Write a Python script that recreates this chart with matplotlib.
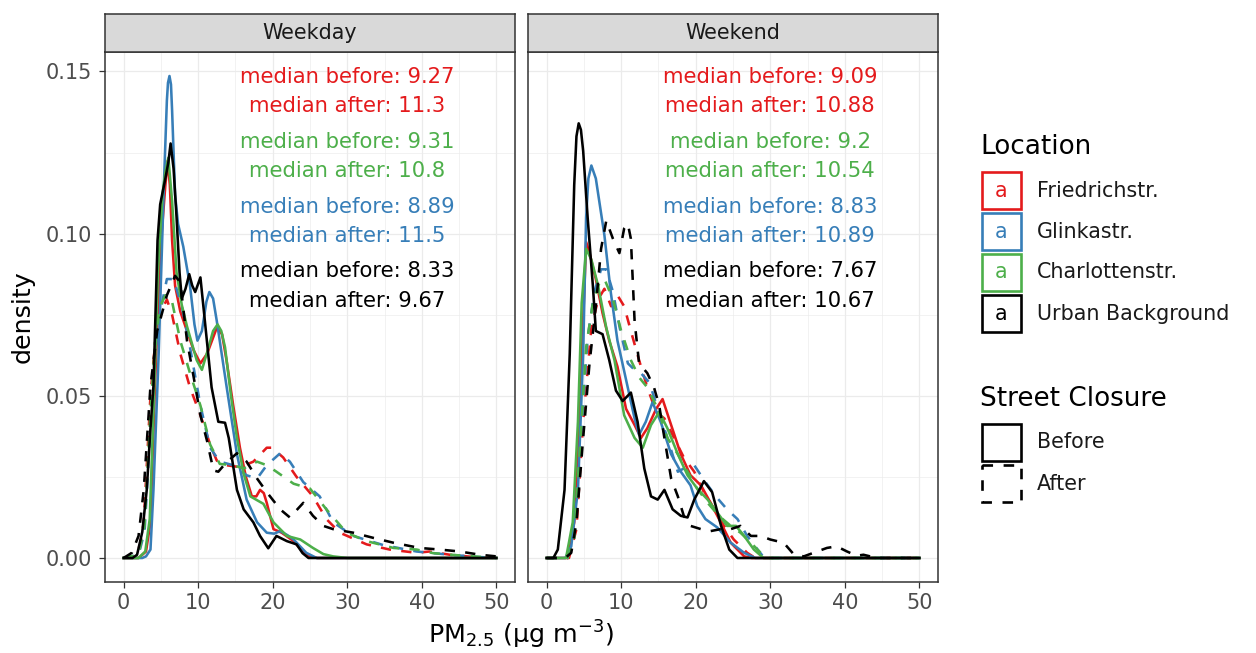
import matplotlib
matplotlib.use("Agg")
import matplotlib.pyplot as plt
from matplotlib.patches import Rectangle

# ---------------- data ----------------
locations = ["Friedrichstr.", "Glinkastr.", "Charlottenstr.", "Urban Background"]
closures = ["Before", "After"]
panels = ["Weekday", "Weekend"]
loc_colors = ["#E41A1C", "#377EB8", "#4DAF4A", "#000000"]

# Weekday, before (solid)
wd_fr_b_x = [0, 2.0, 3.0, 3.6, 4.2, 4.9, 5.6, 5.9, 6.2, 6.5, 6.9, 7.6, 8.5, 9.4, 10.3, 11.2, 12.5, 13.2, 13.8, 14.7, 15.6, 16.4, 17.2, 17.8, 18.3, 18.8, 19.2, 20.1, 21.2, 22.8, 24.0, 25.0, 26.0, 50]
wd_fr_b_y = [0, 0, 0.002, 0.011, 0.053, 0.094, 0.115, 0.1224, 0.115, 0.098, 0.084, 0.076, 0.070, 0.064, 0.060, 0.063, 0.071, 0.069, 0.061, 0.047, 0.034, 0.025, 0.019, 0.019, 0.021, 0.020, 0.017, 0.0089, 0.0078, 0.0052, 0.002, 0.0005, 0, 0]
wd_gl_b_x = [0, 2.5, 3.0, 3.6, 4.0, 4.7, 5.4, 5.8, 5.95, 6.15, 6.35, 6.5, 6.9, 7.3, 8.0, 8.9, 9.5, 9.9, 10.5, 11.1, 11.5, 12.0, 12.5, 13.8, 15.2, 16.5, 17.9, 19.2, 20.2, 21.0, 22.0, 22.8, 24.5, 25.9, 50]
wd_gl_b_y = [0, 0, 0.0005, 0.0026, 0.021, 0.063, 0.115, 0.141, 0.1465, 0.1486, 0.146, 0.138, 0.112, 0.103, 0.096, 0.084, 0.072, 0.067, 0.070, 0.079, 0.082, 0.080, 0.073, 0.053, 0.032, 0.018, 0.011, 0.0078, 0.0075, 0.0083, 0.007, 0.0057, 0.0016, 0, 0]
wd_ch_b_x = [0, 2.0, 2.9, 3.5, 4.0, 4.6, 5.2, 5.6, 6.0, 6.5, 7.1, 7.8, 8.5, 9.8, 10.5, 11.4, 12.0, 12.6, 13.1, 13.6, 14.4, 15.2, 16.1, 17.0, 18.75, 20.1, 21.9, 23.7, 25.4, 26.8, 28.1, 30.0, 50]
wd_ch_b_y = [0, 0, 0.002, 0.012, 0.045, 0.088, 0.112, 0.119, 0.1234, 0.110, 0.088, 0.078, 0.0714, 0.061, 0.058, 0.065, 0.070, 0.072, 0.070, 0.065, 0.050, 0.037, 0.026, 0.019, 0.0167, 0.011, 0.0068, 0.0057, 0.0031, 0.0012, 0.0005, 0, 0]
wd_ub_b_x = [0, 1.2, 1.8, 2.5, 3.1, 3.6, 4.0, 4.55, 4.9, 5.6, 6.0, 6.3, 6.7, 7.1, 7.5, 7.8, 8.3, 8.8, 9.2, 9.6, 10.3, 10.9, 11.8, 12.7, 13.6, 14.1, 15.2, 16.1, 17.4, 18.3, 19.4, 20.5, 21.9, 23.2, 24.0, 24.8, 50]
wd_ub_b_y = [0, 0, 0.001, 0.008, 0.021, 0.040, 0.053, 0.098, 0.109, 0.117, 0.122, 0.1278, 0.120, 0.105, 0.088, 0.080, 0.083, 0.0875, 0.084, 0.082, 0.0865, 0.073, 0.0526, 0.042, 0.0417, 0.037, 0.021, 0.015, 0.011, 0.0068, 0.003, 0.0068, 0.0052, 0.0042, 0.0015, 0, 0]

# Weekday, after (dashed)
wd_fr_a_x = [0, 1.5, 2.2, 2.7, 3.6, 4.2, 4.9, 5.8, 6.5, 7.6, 8.9, 10.3, 11.6, 12.5, 13.8, 15.6, 17.4, 19.2, 19.9, 21.4, 23.2, 25.4, 27.2, 29.0, 32.6, 35.7, 39.3, 41.0, 43.75, 47.0, 50]
wd_fr_a_y = [0, 0.0005, 0.004, 0.011, 0.050, 0.066, 0.0755, 0.0797, 0.075, 0.063, 0.0526, 0.044, 0.035, 0.030, 0.0286, 0.028, 0.0297, 0.034, 0.034, 0.031, 0.025, 0.019, 0.012, 0.0078, 0.0042, 0.0026, 0.0016, 0.002, 0.001, 0.0003, 0]
wd_gl_a_x = [0, 2.0, 2.8, 3.6, 4.2, 4.7, 5.8, 6.7, 7.8, 8.9, 10.3, 11.6, 12.9, 14.7, 16.5, 17.9, 19.2, 21.0, 22.3, 24.1, 26.3, 28.1, 30.8, 34.8, 39.3, 43.75, 47.0, 50]
wd_gl_a_y = [0, 0.001, 0.008, 0.040, 0.062, 0.0734, 0.086, 0.086, 0.0776, 0.065, 0.047, 0.034, 0.0297, 0.0286, 0.0255, 0.0245, 0.0286, 0.0323, 0.0297, 0.0234, 0.019, 0.011, 0.0068, 0.004, 0.002, 0.001, 0.0004, 0]
wd_ch_a_x = [0, 2.0, 2.8, 3.6, 4.2, 4.9, 5.6, 6.5, 7.6, 8.9, 10.3, 11.6, 12.9, 14.7, 16.1, 17.9, 19.2, 20.5, 22.8, 25.0, 27.2, 29.9, 32.6, 36.2, 39.3, 41.5, 45.0, 50]
wd_ch_a_y = [0, 0.001, 0.010, 0.045, 0.066, 0.0776, 0.081, 0.079, 0.067, 0.057, 0.047, 0.035, 0.029, 0.0286, 0.0276, 0.0297, 0.0286, 0.0266, 0.0229, 0.0214, 0.015, 0.0078, 0.0052, 0.0031, 0.0026, 0.0015, 0.0008, 0]
wd_ub_a_x = [0, 1.1, 2.0, 2.7, 3.6, 4.5, 5.8, 6.9, 7.6, 8.5, 9.4, 10.3, 11.2, 12.05, 12.7, 13.6, 15.2, 16.5, 17.9, 19.2, 21.0, 22.3, 24.1, 25.4, 26.8, 28.1, 30.8, 33.5, 36.2, 39.7, 42.4, 45.1, 47.8, 50]
wd_ub_a_y = [0, 0.0016, 0.0068, 0.021, 0.053, 0.070, 0.081, 0.087, 0.085, 0.067, 0.0557, 0.044, 0.036, 0.027, 0.0266, 0.029, 0.0323, 0.0297, 0.0245, 0.0203, 0.015, 0.0125, 0.017, 0.013, 0.0099, 0.0089, 0.0078, 0.0062, 0.0047, 0.0031, 0.0026, 0.002, 0.001, 0.0005]

# Weekend, before (solid)
we_fr_b_x = [0, 2.8, 3.7, 4.4, 4.9, 5.3, 5.75, 6.6, 7.5, 8.4, 9.5, 10.65, 11.8, 12.65, 13.5, 14.7, 15.55, 16.7, 18.0, 19.3, 20.7, 22.0, 23.35, 24.7, 26.5, 27.5, 50]
we_fr_b_y = [0, 0, 0.011, 0.042, 0.0734, 0.0974, 0.094, 0.086, 0.0755, 0.067, 0.059, 0.046, 0.041, 0.037, 0.040, 0.046, 0.049, 0.041, 0.032, 0.0255, 0.0224, 0.017, 0.011, 0.0047, 0.0005, 0, 0]
we_gl_b_x = [0, 2.5, 3.3, 4.2, 4.9, 5.3, 5.6, 6.0, 6.6, 7.75, 8.6, 9.5, 10.65, 11.8, 12.4, 13.3, 14.2, 15.3, 16.7, 18.0, 19.3, 20.2, 21.3, 22.9, 24.7, 26.5, 28.0, 50]
we_gl_b_y = [0, 0, 0.0036, 0.021, 0.063, 0.105, 0.117, 0.121, 0.117, 0.0995, 0.082, 0.067, 0.055, 0.043, 0.038, 0.042, 0.048, 0.042, 0.032, 0.0266, 0.0224, 0.016, 0.012, 0.0094, 0.0047, 0.0016, 0, 0]
we_ch_b_x = [0, 2.6, 3.5, 4.2, 4.7, 5.3, 6.0, 6.9, 8.0, 9.1, 10.4, 11.8, 12.9, 14.0, 15.1, 16.2, 17.6, 18.9, 20.2, 21.6, 22.9, 24.2, 25.4, 26.5, 27.8, 29.1, 50]
we_ch_b_y = [0, 0, 0.011, 0.042, 0.0786, 0.0953, 0.092, 0.084, 0.071, 0.061, 0.044, 0.037, 0.034, 0.041, 0.045, 0.040, 0.032, 0.0255, 0.0214, 0.018, 0.014, 0.0099, 0.0099, 0.0068, 0.0026, 0, 0]
we_ub_b_x = [0, 0.9, 1.5, 2.4, 3.1, 3.7, 4.0, 4.3, 4.6, 4.9, 5.5, 6.2, 6.6, 7.5, 8.4, 9.3, 10.2, 11.3, 12.2, 13.1, 14.0, 14.9, 15.8, 16.9, 18.0, 18.9, 19.8, 21.1, 22.2, 23.4, 24.5, 25.6, 50]
we_ub_b_y = [0, 0, 0.0026, 0.021, 0.063, 0.115, 0.130, 0.134, 0.132, 0.1255, 0.105, 0.084, 0.070, 0.069, 0.061, 0.0516, 0.0484, 0.051, 0.042, 0.0276, 0.019, 0.018, 0.021, 0.015, 0.013, 0.0125, 0.018, 0.0237, 0.0203, 0.0099, 0.0026, 0, 0]

# Weekend, after (dashed)
we_fr_a_x = [0, 3.0, 4.0, 4.9, 6.0, 6.9, 7.75, 8.65, 9.5, 10.4, 11.3, 12.4, 13.5, 14.7, 15.8, 17.1, 18.4, 19.8, 21.1, 22.5, 23.8, 25.1, 26.9, 28.0, 50]
we_fr_a_y = [0, 0, 0.0089, 0.042, 0.071, 0.0797, 0.083, 0.0776, 0.081, 0.0776, 0.070, 0.061, 0.0526, 0.045, 0.043, 0.037, 0.031, 0.0266, 0.0203, 0.015, 0.0099, 0.0057, 0.0016, 0, 0]
we_gl_a_x = [0, 2.8, 3.7, 4.6, 5.5, 6.4, 7.3, 8.0, 8.9, 9.8, 10.9, 11.8, 12.65, 13.8, 14.9, 16.2, 17.6, 18.4, 19.8, 21.3, 22.7, 24.2, 25.6, 26.9, 28.3, 29.2, 50]
we_gl_a_y = [0, 0, 0.0089, 0.037, 0.068, 0.082, 0.089, 0.089, 0.082, 0.071, 0.060, 0.058, 0.057, 0.054, 0.046, 0.037, 0.0266, 0.0276, 0.0286, 0.0234, 0.019, 0.015, 0.012, 0.0068, 0.0026, 0, 0]
we_ch_a_x = [0, 2.8, 3.7, 4.5, 5.3, 6.2, 7.1, 7.75, 8.9, 10.0, 11.3, 12.4, 13.5, 14.9, 16.2, 17.6, 18.9, 20.2, 21.6, 23.1, 24.7, 26.0, 27.4, 28.7, 29.6, 50]
we_ch_a_y = [0, 0, 0.0057, 0.035, 0.065, 0.0786, 0.085, 0.086, 0.0797, 0.070, 0.061, 0.0557, 0.0526, 0.046, 0.037, 0.032, 0.0266, 0.0214, 0.017, 0.013, 0.0099, 0.0078, 0.0047, 0.0016, 0, 0]
we_ub_a_x = [0, 2.5, 3.3, 4.0, 4.9, 5.75, 6.6, 7.3, 8.0, 8.9, 9.76, 10.4, 10.9, 11.3, 11.8, 12.4, 13.5, 14.4, 15.1, 15.8, 16.7, 17.6, 18.4, 19.3, 20.7, 22.0, 23.35, 24.7, 26.0, 27.4, 28.7, 30.0, 31.8, 33.2, 34.5, 35.8, 37.6, 38.9, 40.3, 41.6, 42.5, 43.4, 44.5, 50]
we_ub_a_y = [0, 0, 0.0016, 0.011, 0.037, 0.060, 0.0776, 0.0953, 0.104, 0.0984, 0.094, 0.1016, 0.103, 0.0984, 0.073, 0.060, 0.057, 0.0526, 0.047, 0.037, 0.0245, 0.019, 0.013, 0.0099, 0.0089, 0.0083, 0.0089, 0.0089, 0.0099, 0.0068, 0.0068, 0.0057, 0.0047, 0.001, 0.0005, 0.0016, 0.0031, 0.0036, 0.002, 0.0007, 0.001, 0.0005, 0, 0]

# medians shown in each panel (order: Friedrichstr., Glinkastr., Charlottenstr., Urban Background)
wd_median_before = ["9.27", "8.89", "9.31", "8.33"]
wd_median_after = ["11.3", "11.5", "10.8", "9.67"]
we_median_before = ["9.09", "8.83", "9.2", "7.67"]
we_median_after = ["10.88", "10.89", "10.54", "10.67"]

x_ticks = [0, 10, 20, 30, 40, 50]
y_ticks = [0.00, 0.05, 0.10, 0.15]
y_tick_labels = ["0.00", "0.05", "0.10", "0.15"]

# ---------------- layout ----------------
W, H = 1256, 653
fig = plt.figure(figsize=(W / 100, H / 100), dpi=100)


def fx(px):
    return px / W


def fy(py):
    return 1 - py / H


border = "#333333"
grid_c = "#EBEBEB"
tick_lab_c = "#4D4D4D"

panel_data = {
    "Weekday": [
        [(wd_fr_b_x, wd_fr_b_y), (wd_fr_a_x, wd_fr_a_y)],
        [(wd_gl_b_x, wd_gl_b_y), (wd_gl_a_x, wd_gl_a_y)],
        [(wd_ch_b_x, wd_ch_b_y), (wd_ch_a_x, wd_ch_a_y)],
        [(wd_ub_b_x, wd_ub_b_y), (wd_ub_a_x, wd_ub_a_y)],
    ],
    "Weekend": [
        [(we_fr_b_x, we_fr_b_y), (we_fr_a_x, we_fr_a_y)],
        [(we_gl_b_x, we_gl_b_y), (we_gl_a_x, we_gl_a_y)],
        [(we_ch_b_x, we_ch_b_y), (we_ch_a_x, we_ch_a_y)],
        [(we_ub_b_x, we_ub_b_y), (we_ub_a_x, we_ub_a_y)],
    ],
}
panel_medians = {
    "Weekday": (wd_median_before, wd_median_after),
    "Weekend": (we_median_before, we_median_after),
}

dash_style = (0, (4, 4))
line_w = 1.85
panel_left_px = [105, 528]
panel_w_px = 410
# text order in panels: red, green, blue, black
text_order = [0, 2, 1, 3]
text_base_y = [(0.1464, 0.1375), (0.1264, 0.1174), (0.1063, 0.0974), (0.0865, 0.0774)]

for pi, pname in enumerate(panels):
    left = panel_left_px[pi]
    ax = fig.add_axes([fx(left), fy(582), panel_w_px / W, (582 - 52) / H])
    ax.set_xlim(-2.5, 52.5)
    ax.set_ylim(-0.0074, 0.1560)
    ax.set_xticks(x_ticks)
    ax.set_xticks([5, 15, 25, 35, 45], minor=True)
    ax.set_yticks(y_ticks)
    ax.set_yticks([0.025, 0.075, 0.125], minor=True)
    ax.grid(which="major", color=grid_c, lw=0.9, zorder=0)
    ax.grid(which="minor", color=grid_c, lw=0.45, zorder=0)
    ax.set_axisbelow(True)
    for s in ax.spines.values():
        s.set_color(border)
        s.set_linewidth(1.1)
    ax.tick_params(which="minor", length=0)
    ax.tick_params(which="major", color=border, length=4.6, width=0.9,
                   labelsize=15, labelcolor=tick_lab_c)
    ax.tick_params(axis="y", pad=4.6)
    ax.tick_params(axis="x", pad=3.6)
    if pi == 0:
        ax.set_yticklabels(y_tick_labels)
    else:
        ax.tick_params(axis="y", which="major", length=0, labelleft=False)
    ax.set_xticklabels([str(t) for t in x_ticks])

    for li, loc in enumerate(locations):
        (bx, by), (axx, ayy) = panel_data[pname][li]
        ax.plot(bx, by, color=loc_colors[li], lw=line_w, solid_joinstyle="round", zorder=3)
        ax.plot(axx, ayy, color=loc_colors[li], lw=line_w, linestyle=dash_style,
                dash_joinstyle="round", zorder=3)

    mb, ma = panel_medians[pname]
    for k, li in enumerate(text_order):
        yb, ya = text_base_y[k]
        ax.text(30, yb, f"median before: {mb[li]}", color=loc_colors[li], fontsize=15.2,
                ha="center", va="baseline", zorder=4)
        ax.text(30, ya, f"median after: {ma[li]}", color=loc_colors[li], fontsize=15.2,
                ha="center", va="baseline", zorder=4)

    # strip
    sax = fig.add_axes([fx(left), fy(52), panel_w_px / W, (52 - 14) / H])
    sax.set_facecolor("#D9D9D9")
    sax.set_xticks([])
    sax.set_yticks([])
    for s in sax.spines.values():
        s.set_color(border)
        s.set_linewidth(1.1)
    sax.text(0.5, 0.5, pname, ha="center", va="center", fontsize=14.9, color="#1A1A1A",
             transform=sax.transAxes)

# axis titles
fig.text(fx(521.5), fy(644), r"PM$_{2.5}$ (µg m$^{-3}$)", ha="center", va="baseline",
         fontsize=18.3, color="black")
fig.text(fx(23), fy(317), "density", rotation=90, ha="center", va="center",
         fontsize=18.3, color="black")

# ---------------- legend (pixel overlay) ----------------
lax = fig.add_axes([0, 0, 1, 1], zorder=10)
lax.set_xlim(0, W)
lax.set_ylim(H, 0)
lax.axis("off")
lax.patch.set_alpha(0)

lax.text(980, 154, "Location", fontsize=18.9, ha="left", va="baseline", color="black")
key_tops = [171, 212, 252.5, 293.5]
for li, loc in enumerate(locations):
    top = key_tops[li]
    lax.add_patch(Rectangle((982, top + 1), 39, 37, fill=True, facecolor="white",
                            edgecolor=loc_colors[li], lw=1.9))
    lax.text(1001.5, top + 20, "a", color=loc_colors[li], fontsize=14.8,
             ha="center", va="center")
    lax.text(1037, top + 20, loc, fontsize=14.9, ha="left", va="center", color="#1A1A1A")

lax.text(980, 406.5, "Street Closure", fontsize=18.9, ha="left", va="baseline", color="black")
cl_tops = [422.5, 463.5]
cl_styles = ["solid", dash_style]
for ci, cl in enumerate(closures):
    top = cl_tops[ci]
    lax.add_patch(Rectangle((982, top + 1), 39, 37, fill=False, edgecolor="black",
                            lw=1.9, linestyle=cl_styles[ci]))
    lax.text(1037, top + 20, cl, fontsize=14.9, ha="left", va="center", color="#1A1A1A")

fig.savefig("out.png", dpi=100, facecolor="white")
